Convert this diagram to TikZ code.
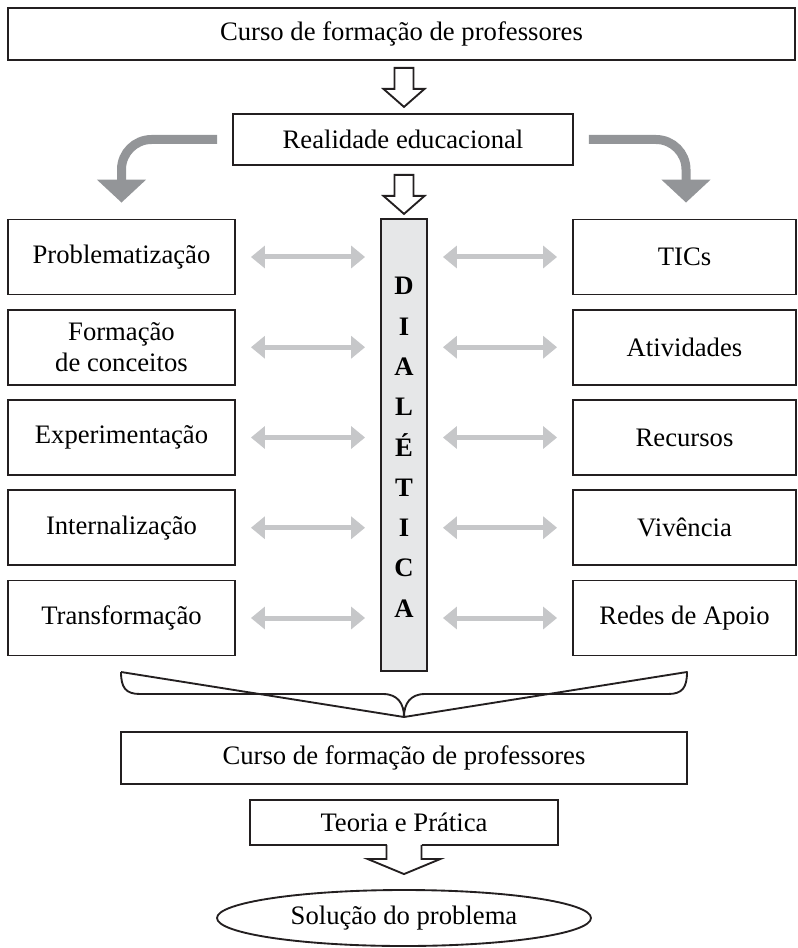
\documentclass[tikz,border=0pt]{standalone}
\usepackage{fontspec}
\setmainfont{Liberation Serif}
\usetikzlibrary{arrows.meta,calc,positioning,shapes.geometric}
\definecolor{inkline}{HTML}{231F20}
\definecolor{bendgray}{HTML}{939598}
\definecolor{duogray}{HTML}{C6C7C9}
\definecolor{colfill}{HTML}{E6E7E8}
\tikzset{
    box/.style={draw=inkline, line width=1.4pt, inner sep=2pt, align=center,
        font=\fontsize{20}{23}\selectfont},
    sidebox/.style={box, minimum height=56.25pt},
    letter/.style={anchor=base, inner sep=0pt, font=\bfseries\fontsize{20}{23}\selectfont},
    bendarrow/.style={draw=bendgray, line width=6.75pt, rounded corners=22.5pt,
        -{Triangle[width=36pt,length=17.25pt]}},
    duoarrow/.style={draw=duogray, line width=3.75pt, shorten <=11.25pt, shorten >=11.25pt,
        {Triangle[width=16.5pt,length=10.5pt]}-{Triangle[width=16.5pt,length=10.5pt]}},
    pics/openarrow/.style n args={4}{code={
        \draw[inkline, line width=1.4pt, fill=white, line join=miter]
            (-#1,0) -- (-#1,#3) -- (-#2,#3) -- (0,#4) -- (#2,#3) -- (#1,#3) -- (#1,0) -- cycle;}}
}
\begin{document}
\begin{tikzpicture}[x=0.75pt,y=-0.75pt]
    \useasboundingbox (0,0) rectangle (797,948);

    \node[box, minimum width=590.25pt, minimum height=39pt] (curso) at (401.5,34)
        {Curso de formação de professores};
    \node[box, minimum width=255pt, minimum height=38.25pt] (real) at (403,139.5)
        {Realidade educacional};
    \node[box, fill=colfill, minimum width=34.5pt, minimum height=339pt] (dial) at (404,445) {};
    \foreach \t [count=\i] in {D,I,A,L,É,T,I,C,A}
        \node[letter] (d\i) at (404,{295+40.25*(\i-1)}) {\t};

    \foreach \t [count=\i] in {Problematização,{Formação\\de conceitos},Experimentação,Internalização,Transformação}
        \node[sidebox, minimum width=170.25pt] (lb\i) at (121.5,{257+90.25*(\i-1)}) {\t};
    \foreach \t [count=\i] in {TICs,Atividades,Recursos,Vivência,Redes de Apoio}
        \node[sidebox, minimum width=167.25pt] (rb\i) at (684.5,{257+90.25*(\i-1)}) {\t};

    \node[box, minimum width=424.5pt, minimum height=39pt] (curso2) at (404,758)
        {Curso de formação de professores};
    \node[box, minimum width=231pt, minimum height=33.75pt] (teoria) at (404,822.5)
        {Teoria e Prática};
    \node[box, ellipse, inner sep=0pt, minimum width=280.5pt, minimum height=42pt] (sol) at (404,918)
        {Solução do problema};

    % open arrows
    \pic at ($(curso.south)+(2.5,7)$) {openarrow={9.5}{20.5}{21}{39}};
    \pic at ($(real.south)+(1,9)$) {openarrow={9.5}{20.5}{21}{39}};
    \fill[white] (386.5,844) rectangle (421.5,847.5);
    \draw[inkline, line width=1.4pt, fill=white, line join=miter]
        ($(teoria.south)+(-17.5,-1)$) -- ++(0,14) -- ++(-19,0) -- ($(sol.north)+(0,-15)$)
        -- ($(teoria.south)+(36.5,13)$) -- ++(-19,0) -- ++(0,-14);

    % curved gray arrows
    \draw[bendarrow] ($(real.west)+(-15,0)$) -| ($(lb1.north)+(0,-16)$);
    \draw[bendarrow] ($(real.east)+(15,0)$) -| ($(rb1.north)+(1.5,-16)$);

    \foreach \i in {1,...,5} {
        \draw[duoarrow] (lb\i.east) -- (lb\i.east -| dial.west);
        \draw[duoarrow] (rb\i.west -| dial.east) -- (rb\i.west);
    }

    % brace
    \draw[inkline, line width=1.4pt, line join=round]
        (121,672) .. controls (121,688) and (126,694) .. (140,694) -- (383,694)
        .. controls (398,694) and (404,704) .. (404,717)
        .. controls (404,704) and (410,694) .. (425,694) -- (668,694)
        .. controls (682,694) and (687,688) .. (687,672)
        -- (404,717) -- (121,672);
\end{tikzpicture}
\end{document}
